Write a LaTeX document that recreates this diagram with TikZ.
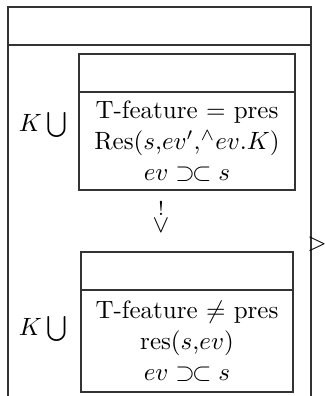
\documentclass[tikz,border=0pt]{standalone}
\usepackage{amsmath}
\usetikzlibrary{positioning}
\tikzstyle{frameline} = [semithick, draw=black!80]
\tikzstyle{compart}   = [semithick, draw=black!80, rectangle, inner sep=0pt, outer sep=0pt, align=center]
\tikzstyle{plain}     = [inner sep=1pt, outer sep=0pt, align=center]

\begin{document}
\begin{tikzpicture}[
        x=0.4pt,
        y=-0.4pt,
        every node/.style={font=\normalsize}
    ]
        \useasboundingbox (0,0) rectangle (325,396);

        % outer frame
        \coordinate (fbl) at (8,396);
        \coordinate (ftl) at (8,7);
        \coordinate (ftr) at (311,7);
        \coordinate (fbr) at (311,396);
        \draw[frameline] (fbl) -- (ftl) -- (ftr) -- (fbr);
        \draw[frameline] (8,45) -- (311,45);

        % upper state
        \node[compart, minimum width=86.4pt, minimum height=39.2pt] (res1) at (187,141)
            {T-feature $=$ pres\\[0.5pt]
             Res$(s$,$ev'$,$^\wedge ev.K)$\\[0.5pt]
             $ev \mathrel{\supset\mkern-2mu\subset} s$};
        \node[compart, minimum width=86.4pt, minimum height=15.2pt, above=0pt of res1] (res1top) {};
        \node[plain] (k1) at (43,125) {$K\bigcup$};

        % lower state
        \node[compart, minimum width=84.8pt, minimum height=40.8pt] (res2) at (187,341)
            {T-feature $\neq$ pres\\[0.5pt]
             res$(s$,$ev)$\\[0.5pt]
             $ev \mathrel{\supset\mkern-2mu\subset} s$};
        \node[compart, minimum width=84.8pt, minimum height=15.2pt, above=0pt of res2] (res2top) {};
        \node[plain] (k2) at (43,329) {$K\bigcup$};

        % marks between
        \node[plain, inner sep=0pt, font=\footnotesize] (bang) at (161,208) {!};
        \node[plain, inner sep=0pt] (vee) at (161,226) {$\vee$};
        \node[plain] (gt) at (317,244) {$>$};

    \end{tikzpicture}
\end{document}
